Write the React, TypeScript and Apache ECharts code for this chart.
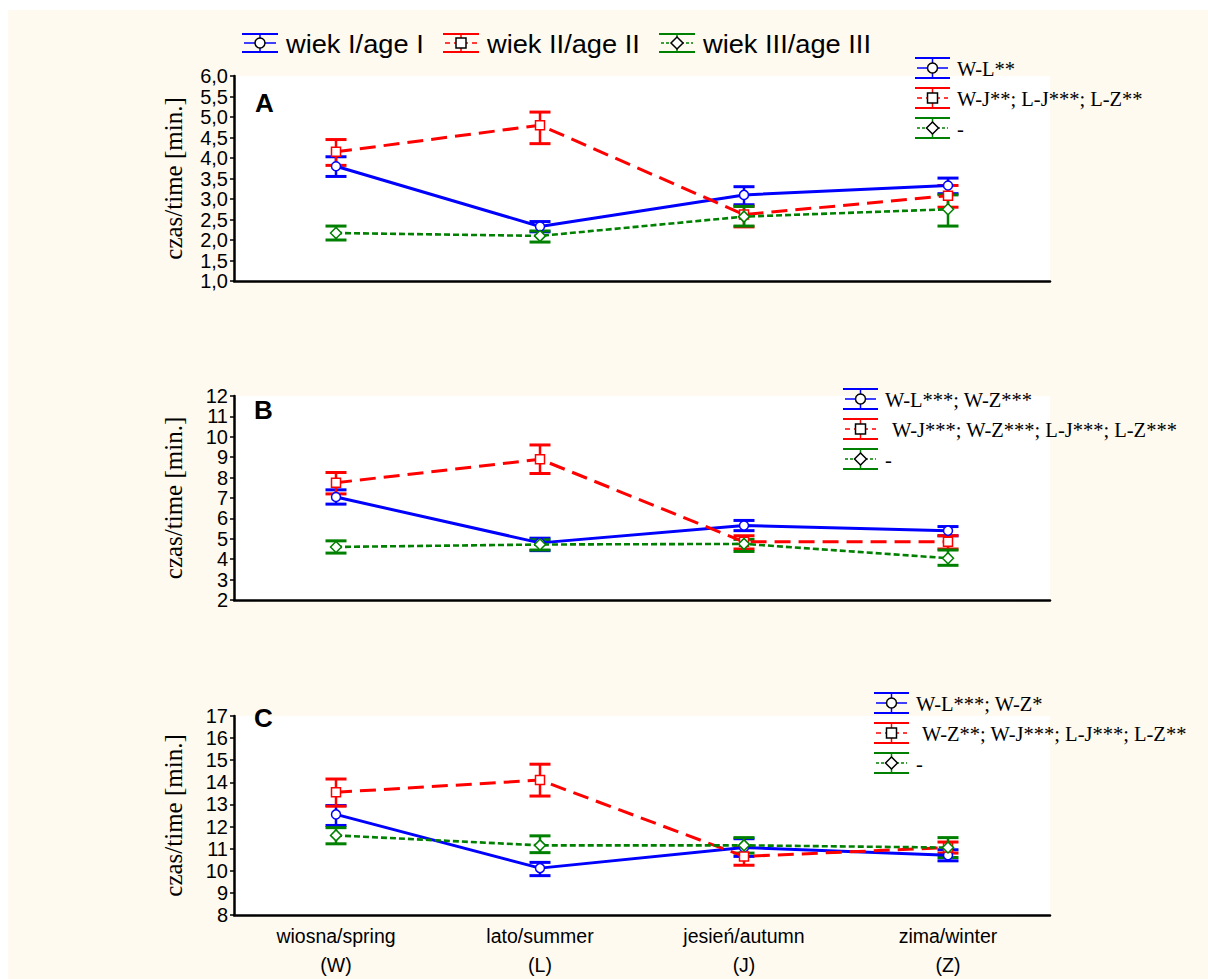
import React, { useEffect, useRef } from 'react';
import * as echarts from 'echarts';

// ---------- data ----------
const categories = ['wiosna/spring\n(W)', 'lato/summer\n(L)', 'jesień/autumn\n(J)', 'zima/winter\n(Z)'];
const ageNames = ['wiek I/age I', 'wiek II/age II', 'wiek III/age III'];
const panelLetters = ['A', 'B', 'C'];

// Panel A
const aAge1Mean = [3.8, 2.33, 3.1, 3.33];
const aAge1Low = [3.55, 2.2, 2.86, 3.13];
const aAge1High = [4.03, 2.45, 3.3, 3.51];
const aAge2Mean = [4.15, 4.8, 2.62, 3.08];
const aAge2Low = [3.82, 4.35, 2.32, 2.8];
const aAge2High = [4.45, 5.12, 2.82, 3.33];
const aAge3Mean = [2.17, 2.1, 2.57, 2.75];
const aAge3Low = [2.0, 1.95, 2.34, 2.34];
const aAge3High = [2.34, 2.22, 2.82, 3.1];

// Panel B
const bAge1Mean = [7.05, 4.8, 5.65, 5.4];
const bAge1Low = [6.7, 4.42, 5.4, 5.15];
const bAge1High = [7.4, 5.03, 5.9, 5.6];
const bAge2Mean = [7.75, 8.9, 4.85, 4.85];
const bAge2Low = [7.2, 8.2, 4.5, 4.5];
const bAge2High = [8.25, 9.6, 5.15, 5.15];
const bAge3Mean = [4.6, 4.72, 4.75, 4.05];
const bAge3Low = [4.3, 4.45, 4.38, 3.7];
const bAge3High = [4.9, 4.95, 4.97, 4.45];

// Panel C
const cAge1Mean = [12.55, 10.12, 11.05, 10.7];
const cAge1Low = [12.05, 9.78, 10.65, 10.45];
const cAge1High = [12.95, 10.38, 11.45, 10.95];
const cAge2Mean = [13.55, 14.1, 10.65, 11.05];
const cAge2Low = [12.92, 13.38, 10.25, 10.8];
const cAge2High = [14.15, 14.82, 11.05, 11.3];
const cAge3Mean = [11.6, 11.15, 11.15, 11.05];
const cAge3Low = [11.22, 10.82, 10.8, 10.6];
const cAge3High = [11.95, 11.58, 11.5, 11.5];

// Axis ranges
const yMins = [1, 2, 8];
const yMaxs = [6, 12, 17];
const yIntervals = [0.5, 1, 1];
const yName = 'czas/time [min.]';

// Significance legends
const legendA = ['W-L**', 'W-J**; L-J***; L-Z**', '-'];
const legendB = ['W-L***; W-Z***', 'W-J***; W-Z***; L-J***; L-Z***', '-'];
const legendC = ['W-L***; W-Z*', 'W-Z**; W-J***; L-J***; L-Z**', '-'];

// ---------- styles ----------
const COLORS = ['#0000FF', '#FF0000', '#008000'];
const SYMBOLS = ['circle', 'rect', 'diamond'];
const SYMBOL_SIZES = [9, 9, 11];
const LINE_TYPES: any[] = ['solid', [16, 8], [6, 3]];
const LINE_WIDTHS = [3, 3, 2.6];
const SANS = 'Liberation Sans, Arial, sans-serif';
const SERIF = 'Liberation Serif, Times New Roman, serif';

const panels = [
  {
    means: [aAge1Mean, aAge2Mean, aAge3Mean],
    lows: [aAge1Low, aAge2Low, aAge3Low],
    highs: [aAge1High, aAge2High, aAge3High],
    legend: legendA,
  },
  {
    means: [bAge1Mean, bAge2Mean, bAge3Mean],
    lows: [bAge1Low, bAge2Low, bAge3Low],
    highs: [bAge1High, bAge2High, bAge3High],
    legend: legendB,
  },
  {
    means: [cAge1Mean, cAge2Mean, cAge3Mean],
    lows: [cAge1Low, cAge2Low, cAge3Low],
    highs: [cAge1High, cAge2High, cAge3High],
    legend: legendC,
  },
];

const gridTops = [76, 396, 716];
const gridHeights = [205, 204, 206];
const GRID_LEFT = 234;
const GRID_RIGHT_EDGE = 1050;

// legend layout
const topLegendIconX = [242, 443, 659];
const topLegendTextX = [286, 487, 703];
const TOP_LEGEND_Y = 43;
const sideLegendIconX = [915, 843, 874];
const sideLegendTextX = [
  [957, 957, 957],
  [885, 892, 885],
  [916, 922, 916],
];
const sideLegendRowY = [
  [68, 98, 128],
  [399, 429, 459],
  [703, 733, 763],
];
const letterPos = [
  [255, 103],
  [254, 410],
  [254, 718],
];

function legendIcon(x: number, cy: number, k: number, w: number, half: number) {
  const color = COLORS[k];
  const cx = x + w / 2;
  const els: any[] = [
    { type: 'line', shape: { x1: x, y1: cy - half, x2: x + w, y2: cy - half }, style: { stroke: color, lineWidth: 2 } },
    { type: 'line', shape: { x1: x, y1: cy + half, x2: x + w, y2: cy + half }, style: { stroke: color, lineWidth: 2 } },
    { type: 'line', shape: { x1: cx, y1: cy - half, x2: cx, y2: cy + half }, style: { stroke: color, lineWidth: 1.5 } },
    {
      type: 'line',
      shape: { x1: x + 2, y1: cy, x2: x + w - 2, y2: cy },
      style: { stroke: color, lineWidth: 1.5, lineDash: k === 0 ? null : k === 1 ? [5, 4] : [3, 2] },
    },
  ];
  const mstyle = { fill: '#fff', stroke: '#000', lineWidth: 1.5 };
  if (k === 0) els.push({ type: 'circle', shape: { cx, cy, r: 5 }, style: mstyle });
  else if (k === 1) els.push({ type: 'rect', shape: { x: cx - 5, y: cy - 5, width: 10, height: 10 }, style: mstyle });
  else
    els.push({
      type: 'polygon',
      shape: { points: [[cx, cy - 6], [cx + 6, cy], [cx, cy + 6], [cx - 6, cy]] },
      style: mstyle,
    });
  return els;
}

function buildOption() {
  const grids: any[] = [];
  const xAxes: any[] = [];
  const yAxes: any[] = [];
  const series: any[] = [];
  const graphics: any[] = [
    { type: 'rect', shape: { x: 0, y: 0, width: 1208, height: 10 }, style: { fill: '#fff' }, silent: true },
    { type: 'rect', shape: { x: 0, y: 0, width: 8, height: 979 }, style: { fill: '#fff' }, silent: true },
  ];

  panels.forEach((p, pi) => {
    grids.push({
      left: GRID_LEFT,
      top: gridTops[pi],
      width: GRID_RIGHT_EDGE - GRID_LEFT,
      height: gridHeights[pi],
      show: true,
      backgroundColor: '#ffffff',
      borderWidth: 0,
    });
    xAxes.push({
      type: 'category',
      gridIndex: pi,
      data: categories,
      boundaryGap: true,
      axisLine: { lineStyle: { color: '#000', width: 2.5 } },
      axisTick: { alignWithLabel: true, length: 5, lineStyle: { color: '#000', width: 2 } },
      axisLabel: {
        show: pi === 2,
        color: '#000',
        fontFamily: SANS,
        fontSize: 19.5,
        lineHeight: 29,
        margin: 6,
      },
      splitLine: { show: false },
    });
    yAxes.push({
      type: 'value',
      gridIndex: pi,
      min: yMins[pi],
      max: yMaxs[pi],
      interval: yIntervals[pi],
      name: yName,
      nameLocation: 'middle',
      nameGap: 48,
      nameTextStyle: { color: '#000', fontFamily: SERIF, fontSize: 25 },
      axisLine: { show: true, lineStyle: { color: '#000', width: 2.5 } },
      axisTick: { show: true, length: 4, lineStyle: { color: '#000', width: 1.5 } },
      axisLabel: {
        color: '#000',
        fontFamily: SANS,
        fontSize: 20,
        margin: 6,
        formatter: pi === 0 ? (v: number) => v.toFixed(1).replace('.', ',') : (v: number) => String(v),
      },
      splitLine: { show: false },
    });

    for (let k = 0; k < 3; k++) {
      const color = COLORS[k];
      series.push({
        type: 'custom',
        name: ageNames[k],
        xAxisIndex: pi,
        yAxisIndex: pi,
        z: 2 + k,
        data: categories.map((_, i) => [i, p.lows[k][i], p.highs[k][i]]),
        encode: { x: 0, y: [1, 2] },
        renderItem: (params: any, api: any) => {
          const xi = api.value(0);
          const lo = api.coord([xi, api.value(1)]);
          const hi = api.coord([xi, api.value(2)]);
          const hw = 10.5;
          const st = { stroke: color, lineWidth: 3 };
          return {
            type: 'group',
            children: [
              { type: 'line', shape: { x1: lo[0], y1: lo[1], x2: hi[0], y2: hi[1] }, style: { stroke: color, lineWidth: 2.5 } },
              { type: 'line', shape: { x1: lo[0] - hw, y1: lo[1], x2: lo[0] + hw, y2: lo[1] }, style: st },
              { type: 'line', shape: { x1: hi[0] - hw, y1: hi[1], x2: hi[0] + hw, y2: hi[1] }, style: st },
            ],
          };
        },
      });
    }
    for (let k = 0; k < 3; k++) {
      const color = COLORS[k];
      series.push({
        type: 'line',
        name: ageNames[k],
        xAxisIndex: pi,
        yAxisIndex: pi,
        z: 6 + k,
        data: p.means[k],
        symbol: SYMBOLS[k],
        symbolSize: SYMBOL_SIZES[k],
        showSymbol: true,
        lineStyle: { color, width: LINE_WIDTHS[k], type: LINE_TYPES[k] },
        itemStyle: { color: '#fff', borderColor: color, borderWidth: 1.5 },
      });
    }

    // panel letter
    graphics.push({
      type: 'text',
      x: letterPos[pi][0],
      y: letterPos[pi][1],
      style: {
        text: panelLetters[pi],
        fill: '#000',
        font: `bold 26px ${SANS}`,
        verticalAlign: 'middle',
        align: 'left',
      },
      z: 100,
    });
    // side legend
    for (let k = 0; k < 3; k++) {
      legendIcon(sideLegendIconX[pi], sideLegendRowY[pi][k], k, 35, 10).forEach((e) =>
        graphics.push({ ...e, z: 100 })
      );
      graphics.push({
        type: 'text',
        x: sideLegendTextX[pi][k],
        y: sideLegendRowY[pi][k] + 1,
        style: {
          text: p.legend[k],
          fill: '#000',
          font: `20.5px ${SERIF}`,
          verticalAlign: 'middle',
          align: 'left',
        },
        z: 100,
      });
    }
  });

  // top legend
  for (let k = 0; k < 3; k++) {
    legendIcon(topLegendIconX[k], TOP_LEGEND_Y, k, 36, 9).forEach((e) => graphics.push({ ...e, z: 100 }));
    graphics.push({
      type: 'text',
      x: topLegendTextX[k],
      y: TOP_LEGEND_Y + 1,
      scaleX: 1.09,
      style: {
        text: ageNames[k],
        fill: '#000',
        font: `25px ${SANS}`,
        verticalAlign: 'middle',
        align: 'left',
      },
      z: 100,
    });
  }

  return {
    animation: false,
    backgroundColor: '#FFFAF0',
    grid: grids,
    xAxis: xAxes,
    yAxis: yAxes,
    series,
    graphic: { elements: graphics },
  };
}

export default function App() {
  const ref = useRef<HTMLDivElement>(null);
  useEffect(() => {
    if (!ref.current) return;
    const chart = echarts.init(ref.current, undefined, { renderer: 'svg' });
    chart.setOption(buildOption() as any);
    return () => chart.dispose();
  }, []);
  return (
    <div
      ref={ref}
      style={{ position: 'absolute', left: 0, top: 0, width: 1208, height: 979 }}
    />
  );
}
